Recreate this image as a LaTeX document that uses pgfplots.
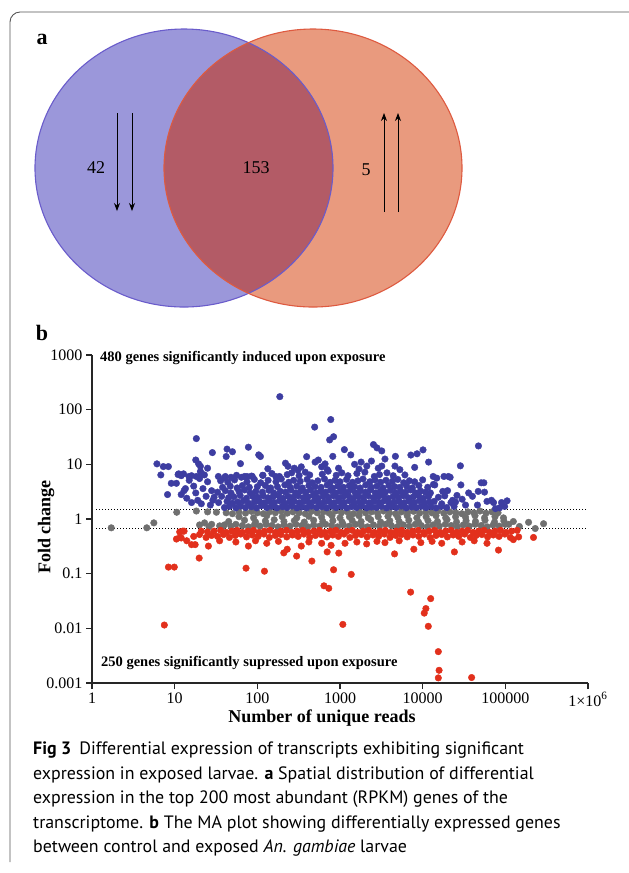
\documentclass[border=0pt]{standalone}
\usepackage{pgfplots}
\pgfplotsset{compat=1.18}
\usepackage{fontspec}
\setmainfont{Liberation Serif}
\newfontfamily\capfont{PT Sans}
\usetikzlibrary{arrows.meta}
\definecolor{vLfill}{HTML}{9B97DA}
\definecolor{vLdraw}{HTML}{6A5CCB}
\definecolor{vRfill}{HTML}{E99A7E}
\definecolor{vRdraw}{HTML}{DE5A40}
\definecolor{vOfill}{HTML}{B35B66}
\definecolor{maBlue}{HTML}{3D3DA1}
\definecolor{maGray}{HTML}{707070}
\definecolor{maRed}{HTML}{E2301C}
\definecolor{frame}{HTML}{555555}
\begin{document}
\begin{tikzpicture}
\useasboundingbox (0pt,-873pt) rectangle (629pt,0pt);
% canvas axis (pixel coordinates, y downward)
\begin{axis}[at={(0pt,-873pt)}, anchor=south west, scale only axis,
  width=629pt, height=873pt, xmin=0, xmax=629, ymin=0, ymax=873,
  y dir=reverse, hide axis, clip=false]
% frame
\draw[frame, line width=0.9pt, rounded corners=10pt] (axis cs:10,862) -- (axis cs:10,12) -- (axis cs:629,12);
% Venn
\fill[vLfill] (axis cs:184,168) ellipse [x radius=149, y radius=139];
\fill[vRfill] (axis cs:313,168) ellipse [x radius=149, y radius=139];
\begin{scope}
\clip (axis cs:184,168) ellipse [x radius=149, y radius=139];
\fill[vOfill] (axis cs:313,168) ellipse [x radius=149, y radius=139];
\end{scope}
\draw[vLdraw, line width=1.1pt] (axis cs:184,168) ellipse [x radius=149, y radius=139];
\draw[vRdraw, line width=1.1pt] (axis cs:313,168) ellipse [x radius=149, y radius=139];
\draw[-{Stealth[length=8pt,width=6pt]}, line width=0.8pt] (axis cs:117,113) -- (axis cs:117,211);
\draw[-{Stealth[length=8pt,width=6pt]}, line width=0.8pt] (axis cs:132,113) -- (axis cs:132,211);
\draw[-{Stealth[length=8pt,width=6pt]}, line width=0.8pt] (axis cs:384,212) -- (axis cs:384,113);
\draw[-{Stealth[length=8pt,width=6pt]}, line width=0.8pt] (axis cs:398,212) -- (axis cs:398,113);
\node[font=\fontsize{18}{20}\selectfont] at (axis cs:96,168) {42};
\node[font=\fontsize{18}{20}\selectfont] at (axis cs:256,168) {153};
\node[font=\fontsize{18}{20}\selectfont] at (axis cs:366,170) {5};
\node[font=\fontsize{22}{24}\selectfont\bfseries] at (axis cs:42,39) {a};
\node[font=\fontsize{22}{24}\selectfont\bfseries] at (axis cs:42,333) {b};
% axis labels and annotations
\node[font=\fontsize{18}{20}\selectfont\bfseries] at (axis cs:322,718) {Number of unique reads};
\node[font=\fontsize{18}{20}\selectfont\bfseries, rotate=90] at (axis cs:46,527) {Fold change};
\node[anchor=west, inner sep=0, font=\fontsize{14.5}{16}\selectfont\bfseries] at (axis cs:100,358) {480 genes significantly induced upon exposure};
\node[anchor=west, inner sep=0, font=\fontsize{14.5}{16}\selectfont\bfseries] at (axis cs:101,663) {250 genes significantly supressed upon exposure};
% caption
\node[anchor=base west, inner sep=0, font=\capfont\fontsize{17.9}{20}\selectfont] at (axis cs:33,754) {\textbf{Fig 3}\hspace{0.45em}Differential expression of transcripts exhibiting significant};
\node[anchor=base west, inner sep=0, font=\capfont\fontsize{17.9}{20}\selectfont] at (axis cs:33,779) {expression in exposed larvae. \textbf{a} Spatial distribution of differential};
\node[anchor=base west, inner sep=0, font=\capfont\fontsize{17.9}{20}\selectfont] at (axis cs:33,803) {expression in the top 200 most abundant (RPKM) genes of the};
\node[anchor=base west, inner sep=0, font=\capfont\fontsize{17.9}{20}\selectfont] at (axis cs:33,828) {transcriptome. \textbf{b} The MA plot showing differentially expressed genes};
\node[anchor=base west, inner sep=0, font=\capfont\fontsize{17.9}{20}\selectfont] at (axis cs:33,852) {between control and exposed \textit{An. gambiae} larvae};
\end{axis}
% MA plot
\begin{axis}[at={(92pt,-683pt)}, anchor=south west, scale only axis,
  width=496pt, height=328pt,
  xmode=log, ymode=log, xmin=1, xmax=1e6, ymin=1e-3, ymax=1e3,
  axis lines*=left, axis line style={line width=1.3pt, black!85},
  tick align=outside, major tick length=6pt, tick style={line width=1.3pt, black!85},
  xminorticks=false, yminorticks=false,
  xtick={1,10,100,1000,10000,100000,1000000},
  xticklabels={1,10,100,1000,10000,100000,{1×10\textsuperscript{6}}},
  ytick={0.001,0.01,0.1,1,10,100,1000},
  yticklabels={0.001,0.01,0.1,1,10,100,1000},
  tick label style={font=\fontsize{16}{18}\selectfont},
  clip=false]
\addplot[black, line width=1.6pt, dash pattern=on 1.4pt off 1.6pt] coordinates {(1.12,1.5) (9.6e5,1.5)};
\addplot[black, line width=1.6pt, dash pattern=on 1.4pt off 1.6pt] coordinates {(1.12,0.667) (9.6e5,0.667)};
% gray: not significant
\addplot[only marks, mark=*, mark size=3.3pt, color=maGray, mark options={draw=none}] coordinates {
(1.71,0.69)(4.6,0.69)(5.6,0.85)(10.6,1.33)(18.3,1.4)(25,1.35)(32,1.33)(20,0.78)(23,0.85)(28,0.8)(26,0.72)(35,0.75)(38,0.72)
(42,1.3)(50,1.25)(60,1.35)(72,1.28)(85,1.38)(100,1.3)(118,1.25)(140,1.35)(165,1.3)(195,1.4)(230,1.28)(270,1.35)(320,1.3)(380,1.25)(450,1.38)(530,1.3)(630,1.35)(740,1.28)(880,1.4)(1040,1.3)(1230,1.35)(1450,1.25)(1720,1.38)(2030,1.3)(2400,1.35)(2840,1.28)(3360,1.4)(3970,1.3)(4700,1.25)(5550,1.35)(6570,1.3)(7770,1.38)(9200,1.28)(10900,1.35)(12900,1.3)(15200,1.4)(18000,1.28)(21300,1.35)(25200,1.3)(29800,1.25)(35300,1.35)(41700,1.3)(49300,1.4)(58300,1.28)(69000,1.35)(81600,1.3)
(60,1.1)(90,1.05)(130,1.15)(200,1.1)(300,1.05)(420,1.12)(600,1.08)(800,1.15)(1000,1.05)(1300,1.1)(1700,1.15)(2200,1.05)(2900,1.1)(3800,1.12)(5000,1.08)(6500,1.15)(8500,1.05)(11000,1.1)(14500,1.15)(19000,1.05)(25000,1.1)(33000,1.08)(43000,1.15)(56000,1.05)(75000,1.1)(95000,1.05)
(45,0.9)(70,0.95)(95,0.88)(125,0.92)(160,0.97)(210,0.9)(280,0.93)(370,0.88)(480,0.95)(620,0.9)(820,0.93)(1060,0.88)(1400,0.95)(1800,0.9)(2350,0.97)(3100,0.88)(4000,0.93)(5200,0.9)(6800,0.95)(8900,0.88)(11600,0.93)(15100,0.9)(19700,0.97)(25700,0.88)(33500,0.93)(43600,0.9)(56800,0.95)(74000,0.88)(96000,0.92)(125000,0.9)(148000,0.73)(191000,0.87)(230000,0.67)(290000,0.82)(110000,0.8)
(40,0.78)(48,0.74)(55,0.8)(66,0.76)(78,0.72)(92,0.78)(108,0.74)(128,0.8)(150,0.76)(178,0.72)(210,0.78)(248,0.74)(293,0.8)(345,0.76)(408,0.72)(480,0.78)(568,0.74)(670,0.8)(790,0.76)(935,0.72)(1100,0.78)(1300,0.74)(1540,0.8)(1820,0.76)(2150,0.72)(2540,0.78)(3000,0.74)(3540,0.8)(4180,0.76)(4940,0.72)(5840,0.78)(6900,0.74)(8150,0.8)(9630,0.76)(11400,0.72)(13400,0.78)(15900,0.74)(18800,0.8)(22200,0.76)(26200,0.72)(31000,0.78)(36600,0.74)(43200,0.8)(51100,0.76)(60300,0.72)(71300,0.78)(84200,0.74)(99500,0.8)
};
% blue: induced
\addplot[only marks, mark=*, mark size=3.3pt, color=maBlue, mark options={draw=none}] coordinates {
(40,1.62)(46,1.7)(55,1.6)(63,1.72)(72,1.62)(85,1.68)(98,1.6)(112,1.75)(130,1.62)(150,1.7)(172,1.6)(200,1.68)(228,1.62)(262,1.72)(300,1.6)(345,1.66)(395,1.6)(450,1.72)(520,1.62)(600,1.68)(690,1.6)(790,1.72)(900,1.62)(1040,1.7)(1200,1.6)(1380,1.68)(1580,1.62)(1820,1.72)(2100,1.6)(2400,1.66)(2750,1.62)(3150,1.7)(3650,1.6)(4200,1.68)(4800,1.62)(5500,1.72)(6300,1.6)(7300,1.66)(8400,1.62)(9600,1.7)(11000,1.62)(12600,1.68)(14500,1.6)(16800,1.7)(19500,1.62)
(34,2.0)(43,2.1)(50,1.95)(58,2.05)(68,2.15)(78,1.95)(92,2.05)(106,2.1)(122,1.98)(140,2.1)(160,2.0)(185,2.15)(212,1.95)(245,2.05)(280,2.1)(322,1.98)(370,2.1)(425,2.0)(490,2.15)(560,1.95)(645,2.05)(740,2.1)(850,1.98)(980,2.1)(1120,2.0)(1290,2.15)(1480,1.95)(1700,2.05)(1960,2.1)(2250,1.98)(2590,2.1)(2980,2.0)(3420,2.15)(3940,1.95)(4530,2.05)(5200,2.1)(6000,1.98)(6900,2.1)(7900,2.0)(9100,2.15)(10500,1.95)(12000,2.05)(13800,2.1)(22000,2.0)(25000,2.05)
(30,2.5)(37,2.6)(45,2.45)(52,2.55)(62,2.7)(74,2.4)(88,2.6)(101,2.5)(118,2.65)(135,2.45)(155,2.55)(180,2.7)(205,2.4)(235,2.6)(270,2.5)(312,2.65)(360,2.45)(410,2.55)(475,2.7)(545,2.4)(625,2.6)(720,2.5)(830,2.65)(950,2.45)(1090,2.55)(1260,2.7)(1450,2.4)(1660,2.6)(1910,2.5)(2200,2.65)(2530,2.45)(2900,2.55)(3350,2.7)(3850,2.4)(4400,2.6)(5100,2.5)(5850,2.65)(6700,2.45)(7700,2.55)(8900,2.7)(10200,2.4)(11800,2.6)(15500,2.5)(18500,2.65)
(33,3.1)(41,3.3)(48,3.0)(60,3.2)(70,3.4)(82,3.0)(96,3.2)(115,3.1)(138,3.35)(158,3.0)(190,3.2)(220,3.1)(255,3.4)(290,3.0)(335,3.25)(385,3.1)(440,3.4)(510,3.0)(580,3.2)(670,3.1)(770,3.35)(880,3.0)(1010,3.2)(1160,3.1)(1340,3.4)(1530,3.0)(1760,3.25)(2030,3.1)(2330,3.4)(2680,3.0)(3080,3.2)(3540,3.1)(4080,3.35)(4700,3.0)(5400,3.2)(6200,3.1)(7150,3.4)(8200,3.0)(9400,3.25)(10800,3.1)(12400,3.0)(17500,3.2)
(38,3.8)(47,4.0)(57,3.7)(66,4.1)(80,3.8)(100,3.9)(125,4.1)(145,3.7)(175,3.9)(215,4.2)(250,3.8)(300,4.0)(350,3.7)(420,4.1)(500,3.9)(590,3.8)(700,4.2)(810,3.7)(940,4.0)(1100,3.8)(1300,4.1)(1500,3.9)(1750,3.7)(2050,4.2)(2400,3.8)(2800,4.0)(3300,3.7)(3900,4.1)(4600,3.9)(5300,3.8)(6400,4.0)(7500,3.7)(9000,4.1)(11500,3.8)(13500,4.3)
(36,5.0)(44,4.7)(53,5.2)(75,4.8)(92,5.3)(110,4.6)(135,5.1)(168,4.8)(195,5.4)(240,4.7)(275,5.1)(330,4.9)(400,5.3)(460,4.6)(540,5.0)(650,5.4)(760,4.7)(870,5.1)(1000,4.8)(1200,5.3)(1420,4.7)(1650,5.0)(1900,5.4)(2300,4.8)(2650,5.2)(3100,4.7)(3600,5.1)(4300,4.9)(5000,5.3)(5900,4.6)(6900,5.0)(8000,4.8)(10000,5.2)
(41,6.0)(48,5.8)(56,6.3)(64,5.8)(75,6.0)(85,6.1)(117,6.3)(150,6.8)(185,6.0)(230,6.5)(260,7.0)(320,6.2)(380,7.2)(430,6.4)(610,6.6)(720,7.5)(900,6.3)(1050,7.0)(1250,6.2)(1600,6.8)(2000,7.2)(2600,6.0)(3000,6.5)(3700,7.0)(4400,6.2)(6100,6.4)(13400,6.0)(18100,6.0)
(14.9,6.0)(18.3,6.0)(20.5,9.2)(20.5,7.4)(22.9,6.4)(33.8,6.0)(40,5.6)(62.5,10.3)(70,6.0)(87,6.0)(109,13.9)(104,14.9)(116,6.3)(134,8.3)(167,6.0)(219,10.5)(235,9.2)(280,8.5)(395,13.8)(547,12)(818,14)(1130,18.6)(1350,14.9)(600,9.0)(700,8.0)(960,8.5)(1500,10)(1800,11)(2110,9.3)(3200,9.3)(4620,9.3)(500,11)(340,9)(310,7.8)(660,10.2)(1700,8.2)(2400,11.5)(3500,12.5)(2900,8.5)(5300,8.0)(8000,8.8)
(10.5,4.5)(11,6.5)(12,2.8)(13,3.3)(14,2.4)(15,5.1)(16,2.0)(17,4.0)(18,3.0)(19,2.2)(20,5.5)(21,1.9)(22,3.6)(24,2.6)(25,4.8)(27,1.8)(28,3.3)(29,2.2)(25,8.5)(21,6.8)(12,6.2)(16,6.2)(13.5,3.6)
(187,173)(773,66)(494,48)(836,32)(750,28)(18.3,29.6)(78,20.6)(43,19)(50,17)(28.6,16.4)(42,13.9)(18,12)(19.5,10.2)(6.1,10.2)(7.3,9.1)(8.4,9.1)(6.8,6.4)(8.2,2.8)(9.1,4.5)(11.2,6.7)(12.8,6.7)
(47300,21.7)(28600,9.4)(10100,18.4)(8550,15.6)(7200,14.8)(11800,11)(4680,14)(3200,17.6)(2540,23)(2800,20)(105000,2.15)(51000,4.6)(55000,4.6)(56000,3.1)(47000,3.2)(46000,1.8)(68000,2.2)(72000,2.0)(76000,1.55)(20500,6.0)(21500,5.8)(14800,5.6)(14000,4.2)(29000,4.2)(30000,2.3)(23000,2.2)(40000,2.6)(17000,1.9)(33000,1.8)(36000,3.0)(26000,2.7)(60000,2.1)(85000,1.6)(90000,2.0)(98000,1.7)(20000,3.3)(24000,1.7)
};
% red: suppressed
\addplot[only marks, mark=*, mark size=3.3pt, color=maRed, mark options={draw=none}] coordinates {
(11.5,0.58)(13,0.6)(21,0.6)(25,0.58)(30,0.6)(36,0.62)(42,0.57)(49,0.6)(57,0.62)(66,0.57)(77,0.6)(90,0.62)(105,0.57)(122,0.6)(142,0.62)(166,0.57)(193,0.6)(225,0.62)(262,0.57)(305,0.6)(356,0.62)(415,0.57)(483,0.6)(563,0.62)(656,0.57)(765,0.6)(890,0.62)(1040,0.57)(1210,0.6)(1410,0.62)(1640,0.57)(1910,0.6)(2230,0.62)(2600,0.57)(3030,0.6)(3530,0.62)(4110,0.57)(4790,0.6)(5580,0.62)(6500,0.57)(7580,0.6)(8830,0.62)(10300,0.57)(12000,0.6)(14000,0.62)(16300,0.57)(19000,0.6)(22100,0.62)(25800,0.57)(30000,0.6)(35000,0.62)(40800,0.57)(47500,0.6)(55400,0.62)(64500,0.57)(75200,0.6)(87600,0.62)(102000,0.57)(119000,0.6)(139000,0.62)
(10.5,0.43)(12,0.45)(14,0.4)(17,0.48)(20,0.52)(24,0.46)(28,0.5)(33,0.48)(39,0.52)(46,0.46)(54,0.5)(63,0.53)(74,0.47)(87,0.51)(102,0.48)(120,0.53)(140,0.46)(165,0.5)(193,0.52)(227,0.47)(266,0.51)(312,0.48)(366,0.53)(430,0.46)(504,0.5)(592,0.52)(695,0.47)(815,0.51)(956,0.48)(1120,0.53)(1320,0.46)(1540,0.5)(1810,0.52)(2130,0.47)(2500,0.51)(2930,0.48)(3440,0.53)(4030,0.46)(4730,0.5)(5550,0.52)(6510,0.47)(7640,0.51)(8960,0.48)(10500,0.53)(12300,0.46)(14500,0.5)(17000,0.52)(19900,0.47)(23400,0.51)(27400,0.48)(32200,0.53)(37800,0.46)(44300,0.5)(52000,0.52)(61000,0.47)(71600,0.51)(84000,0.48)(98500,0.53)(115000,0.46)(145000,0.47)(219000,0.46)
(16,0.34)(17.7,0.34)(25.6,0.32)(35,0.4)(55,0.38)(78,0.32)(95,0.4)(130,0.36)(180,0.39)(209,0.24)(230,0.28)(299,0.21)(340,0.32)(420,0.38)(457,0.17)(600,0.36)(640,0.06)(700,0.25)(731,0.054)(780,0.33)(836,0.118)(967,0.238)(1082,0.0118)(1150,0.36)(1368,0.097)(1600,0.38)(2100,0.35)(2800,0.39)(3500,0.37)(4570,0.23)(5200,0.4)(7820,0.28)(7150,0.046)(9500,0.37)(13000,0.39)(17000,0.36)(24200,0.25)(30000,0.38)(42000,0.4)(60000,0.36)(82600,0.27)(125000,0.42)
(19.8,0.193)(7.5,0.0115)(8.4,0.132)(9.9,0.132)(73,0.126)(122,0.111)(10450,0.019)(10940,0.023)(12500,0.035)(11700,0.0109)(15460,0.00375)(15800,0.00171)(15460,0.00124)(39100,0.00126)(11.6,0.46)(12.5,0.6)
};
\end{axis}
\end{tikzpicture}
\end{document}
